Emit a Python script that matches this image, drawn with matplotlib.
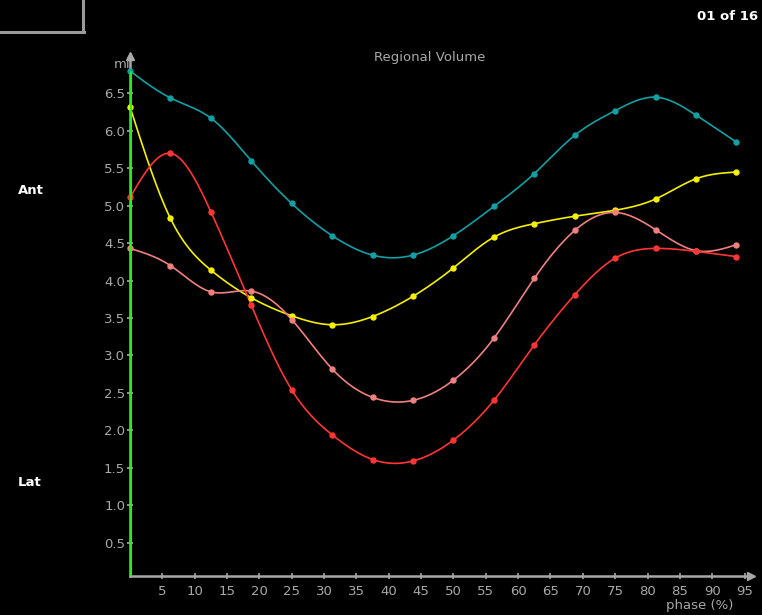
import numpy as np
import matplotlib
matplotlib.use("Agg")
import matplotlib.pyplot as plt

# Estilo oscuro
plt.rcParams.update({
    'font.family': 'DejaVu Sans',
    'figure.facecolor': 'black',
    'axes.facecolor': 'black',
    'savefig.facecolor': 'black',
})

# Datos: 16 fases del ciclo (%)
phase = [0, 6.25, 12.5, 18.75, 25, 31.25, 37.5, 43.75,
         50, 56.25, 62.5, 68.75, 75, 81.25, 87.5, 93.75]
vol_teal = [6.80, 6.44, 6.17, 5.60, 5.03, 4.60, 4.34, 4.34,
            4.60, 4.99, 5.43, 5.94, 6.27, 6.45, 6.21, 5.85]
vol_yellow = [6.32, 4.83, 4.14, 3.77, 3.53, 3.41, 3.52, 3.79,
              4.17, 4.58, 4.76, 4.86, 4.94, 5.09, 5.36, 5.45]
vol_red = [5.11, 5.70, 4.92, 3.67, 2.54, 1.94, 1.61, 1.59,
           1.87, 2.40, 3.14, 3.81, 4.30, 4.43, 4.39, 4.32]
vol_salmon = [4.43, 4.20, 3.85, 3.86, 3.48, 2.82, 2.44, 2.40,
              2.67, 3.23, 4.03, 4.67, 4.91, 4.68, 4.40, 4.48]

series = [
    (vol_teal, '#12A0A4'),
    (vol_yellow, '#F4F000'),
    (vol_salmon, '#F08080'),
    (vol_red, '#FF3535'),
]

x_ticks = list(range(5, 100, 5))
y_ticks = [0.5, 1.0, 1.5, 2.0, 2.5, 3.0, 3.5, 4.0, 4.5, 5.0, 5.5, 6.0, 6.5]


def natural_spline(x, y, n=400):
    # curva suave a través de los puntos (solo para dibujar)
    x = np.asarray(x, float)
    y = np.asarray(y, float)
    k = len(x)
    h = np.diff(x)
    A = np.zeros((k, k))
    b = np.zeros(k)
    A[0, 0] = A[-1, -1] = 1
    for i in range(1, k - 1):
        A[i, i - 1] = h[i - 1]
        A[i, i] = 2 * (h[i - 1] + h[i])
        A[i, i + 1] = h[i]
        b[i] = 6 * ((y[i + 1] - y[i]) / h[i] - (y[i] - y[i - 1]) / h[i - 1])
    M = np.linalg.solve(A, b)
    xs = np.linspace(x[0], x[-1], n)
    idx = np.clip(np.searchsorted(x, xs) - 1, 0, k - 2)
    x0, x1 = x[idx], x[idx + 1]
    hh = x1 - x0
    t0, t1 = x1 - xs, xs - x0
    ys = (M[idx] * t0**3 + M[idx + 1] * t1**3) / (6 * hh) \
        + (y[idx] / hh - M[idx] * hh / 6) * t0 \
        + (y[idx + 1] / hh - M[idx + 1] * hh / 6) * t1
    return xs, ys


fig = plt.figure(figsize=(7.62, 6.15), dpi=100)
ax = fig.add_axes([130 / 762, 39 / 615, 621 / 762, 520 / 615])

ymin, ymax = 0.054, 7.0
ax.set_xlim(0, 96)
ax.set_ylim(ymin, ymax)

for vals, col in series:
    xs, ys = natural_spline(phase, vals)
    ax.plot(xs, ys, color=col, lw=1.2, zorder=3)
    ax.plot(phase, vals, 'o', color=col, ms=3.6, mec=col, zorder=4, clip_on=False)

# cursor de fase actual (verde)
top_val = max(max(v) for v, _ in series)
ax.vlines(0, ymin, top_val, color='#22EE22', lw=2.2, zorder=5)

grey = '#A8A8A8'
for s in ['top', 'right']:
    ax.spines[s].set_visible(False)
ax.spines['left'].set_color(grey)
ax.spines['bottom'].set_color(grey)
ax.spines['left'].set_linewidth(1.8)
ax.spines['bottom'].set_linewidth(1.8)

# flechas de los ejes
ax.plot(1, 0, '>', color=grey, ms=6, transform=ax.transAxes, clip_on=False)
ax.plot(0, 1, '^', color=grey, ms=6, transform=ax.transAxes, clip_on=False)

ax.set_xticks(x_ticks)
ax.set_xticklabels([str(t) for t in x_ticks])
ax.set_yticks(y_ticks)
ax.set_yticklabels([f'{t:.1f}' for t in y_ticks])
ax.tick_params(colors=grey, labelcolor=grey, labelsize=9.5,
               direction='inout', length=5, width=1.2)
ax.tick_params(axis='y', pad=1)
ax.tick_params(axis='x', pad=4)

# textos
fig.text(130 / 762, 1 - 65 / 615, 'ml', color=grey, fontsize=9.5,
         ha='right', va='center')
fig.text(700 / 762, 1 - 605 / 615, 'phase (%)', color=grey, fontsize=9.5,
         ha='center', va='center')
fig.text(430 / 762, 1 - 57 / 615, 'Regional Volume', color=grey, fontsize=9.5,
         ha='center', va='center')
fig.text(758 / 762, 1 - 16 / 615, '01 of 16', color='white', fontsize=9.5,
         weight='bold', ha='right', va='center')
fig.text(18 / 762, 1 - 190 / 615, 'Ant', color='white', fontsize=9.5,
         weight='bold', ha='left', va='center')
fig.text(18 / 762, 1 - 483 / 615, 'Lat', color='white', fontsize=9.5,
         weight='bold', ha='left', va='center')

# recuadro superior izquierdo
fig.add_artist(plt.Line2D([0, 84 / 762], [1 - 32 / 615, 1 - 32 / 615],
                          color='#9A9A9A', lw=2.2))
fig.add_artist(plt.Line2D([83 / 762, 83 / 762], [1, 1 - 32 / 615],
                          color='#9A9A9A', lw=2.2))

fig.savefig('out.png', dpi=100, facecolor='black')
